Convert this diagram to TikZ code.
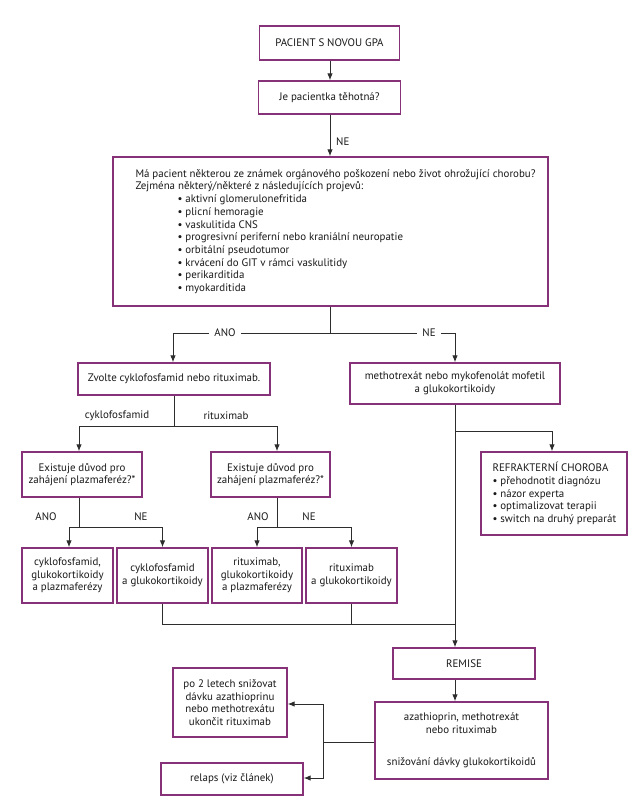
\documentclass[tikz,border=0pt]{standalone}
\usepackage{fontspec}
\setmainfont{PT Sans}
\usetikzlibrary{arrows.meta}
\definecolor{boxc}{RGB}{135,50,120}
\definecolor{linec}{RGB}{45,45,45}
\definecolor{txtc}{RGB}{25,25,25}
\begin{document}
\begin{tikzpicture}[x=1pt,y=-1pt,
  every node/.style={text=txtc, font=\fontsize{10.9}{12.7}\selectfont},
  box/.style={draw=boxc, line width=1.3pt, fill=white, align=center, inner sep=0pt},
  lab/.style={inner sep=0pt},
  gaplab/.style={fill=white, inner xsep=5pt, inner ysep=2pt},
  conn/.style={draw=linec, line width=1pt},
  arr/.style={conn, -{Latex[length=7pt,width=5.5pt]}}]
\useasboundingbox (0,0) rectangle (636,800);
\fill[white] (0,0) rectangle (636,800);

% boxes
\node[box, minimum width=140pt, minimum height=34pt] (b1) at (329.5,43) {PACIENT S NOVOU GPA};
\node[box, minimum width=142pt, minimum height=33pt] (b2) at (329.5,97.5) {Je pacientka těhotná?};
\node[box, minimum width=435pt, minimum height=149pt] (b3) at (330.5,231.5) {};
\node[lab, anchor=west, align=left] (t3) at ([xshift=23pt]b3.west) {Má pacient některou ze známek orgánového poškození nebo život ohrožující chorobu?\\
Zejména některý/některé z následujících projevů:\\
\hspace*{42pt}• aktivní glomerulonefritida\\
\hspace*{42pt}• plicní hemoragie\\
\hspace*{42pt}• vaskulitida CNS\\
\hspace*{42pt}• progresivní periferní nebo kraniální neuropatie\\
\hspace*{42pt}• orbitální pseudotumor\\
\hspace*{42pt}• krvácení do GIT v rámci vaskulitidy\\
\hspace*{42pt}• perikarditida\\
\hspace*{42pt}• myokarditida};

\node[box, minimum width=192pt, minimum height=32pt] (zv) at (174,379) {Zvolte cyklofosfamid nebo rituximab.};
\node[box, minimum width=210pt, minimum height=41pt] (meth) at (455,383.5) {methotrexát nebo mykofenolát mofetil\\a glukokortikoidy};

\node[box, minimum width=120pt, minimum height=45pt] (exL) at (82,474.5) {Existuje důvod pro\\zahájení plazmaferéz?*};
\node[box, minimum width=119pt, minimum height=45pt] (exR) at (270.5,474.5) {Existuje důvod pro\\zahájení plazmaferéz?*};

\node[box, minimum width=91pt, minimum height=55pt] (ba) at (67.5,575.5) {cyklofosfamid,\\glukokortikoidy\\a plazmaferézy};
\node[box, minimum width=91pt, minimum height=55pt] (bb) at (162.5,575.5) {cyklofosfamid\\a glukokortikoidy};
\node[box, minimum width=90pt, minimum height=55pt] (bc) at (257,575.5) {rituximab,\\glukokortikoidy\\a plazmaferézy};
\node[box, minimum width=91pt, minimum height=55pt] (bd) at (351.5,575.5) {rituximab\\a glukokortikoidy};

\node[box, minimum width=146pt, minimum height=83pt] (refr) at (554,493.5) {};
\node[lab, anchor=west, align=left] (trefr) at ([xshift=12pt]refr.west) {REFRAKTERNÍ CHOROBA\\
• přehodnotit diagnózu\\
• názor experta\\
• optimalizovat terapii\\
• switch na druhý preparát};

\node[box, minimum width=142pt, minimum height=31pt] (rem) at (464,663.5) {REMISE};
\node[box, minimum width=173pt, minimum height=77pt] (az) at (461.5,740.5) {azathioprin, methotrexát\\nebo rituximab\\[19.3pt]snižování dávky glukokortikoidů};
\node[box, minimum width=114pt, minimum height=69pt] (po2) at (230,702.5) {po 2 letech snižovat\\dávku azathioprinu\\nebo methotrexátu\\ukončit rituximab};
\node[box, minimum width=142pt, minimum height=32pt] (rel) at (232,779) {relaps (viz článek)};

% junction coordinates
\coordinate (j1) at (330,333);
\coordinate (j2) at (174,426);
\coordinate (jl) at (79,0);
\coordinate (jr) at (277,0);
\coordinate (j3) at (79,527);
\coordinate (j4) at (277,527);
\coordinate (jm) at (455,624);
\coordinate (jb) at (455,431);
\coordinate (jz) at (323,742);

% connectors
\draw[arr] (b1.south -| j1) -- (b2.north -| j1);
\draw[arr] (b2.south -| j1) -- (b3.north -| j1);
\draw[conn] (b3.south -| j1) -- (j1);
\draw[arr] (j1) -| (zv.north -| 173,0);
\draw[arr] (j1) -| (meth.north);

\draw[conn] (zv.south) -- (j2);
\draw[arr] (j2) -| (exL.north -| jl);
\draw[arr] (j2) -| (exR.north -| jr);

\draw[conn] (exL.south -| j3) -- (j3);
\draw[arr] (j3) -| (ba.north -| 69,0);
\draw[arr] (j3) -| (bb.north);
\draw[conn] (exR.south -| j4) -- (j4);
\draw[arr] (j4) -| (bc.north);
\draw[arr] (j4) -| (bd.north);

\draw[conn] (bb.south) |- (jm);
\draw[conn] (bd.south) |- (jm);
\draw[arr] (meth.south) -- (rem.north -| meth.south);
\draw[arr] (jb) -| (refr.north -| 552,0);
\draw[arr] (rem.south -| meth.south) -- (az.north -| meth.south);

\draw[conn] (az.west |- jz) -- (jz);
\draw[arr] (jz) |- (po2.east |- 0,704);
\draw[arr] (jz) |- (rel.east |- 0,778);

% labels
\node[lab, anchor=west] (ne0) at (336,142) {NE};
\node[gaplab] (ano1) at (225,333) {ANO};
\node[gaplab] (ne1) at (429,333) {NE};
\node[lab] (cyk) at (117,416) {cyklofosfamid};
\node[lab] (rit) at (226,416) {rituximab};
\node[lab] (ano2) at (46,517) {ANO};
\node[lab] (ne2) at (141,517) {NE};
\node[lab] (ano3) at (258,517) {ANO};
\node[lab] (ne3) at (309,517) {NE};
\end{tikzpicture}
\end{document}
